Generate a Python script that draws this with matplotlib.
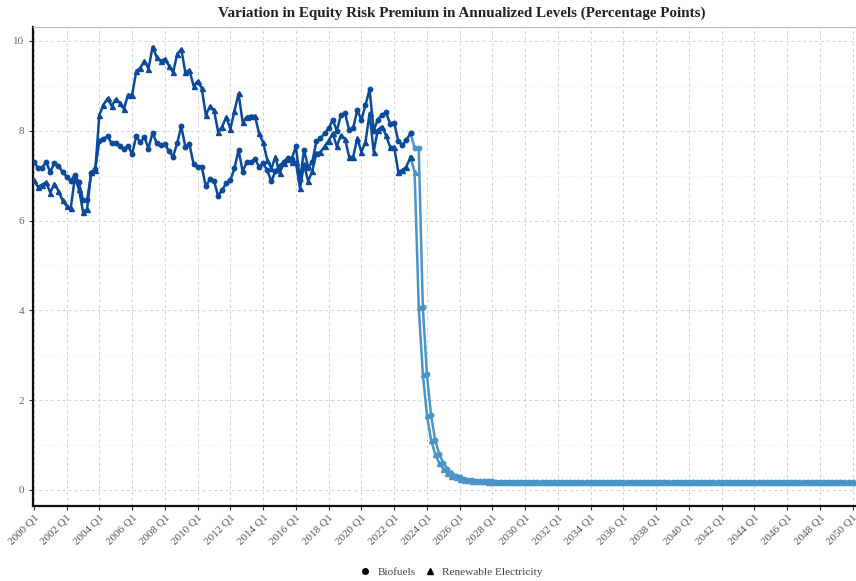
import matplotlib
matplotlib.use("Agg")
import matplotlib.pyplot as plt
from matplotlib.lines import Line2D
from matplotlib.ticker import MultipleLocator

plt.rcParams["font.family"] = ["Liberation Serif", "DejaVu Serif"]

# Quarter labels, 2000 Q1 through 2050 Q1
quarters = [f"{2000 + i // 4} Q{i % 4 + 1}" for i in range(201)]

# Historical quarterly values (2000 Q1 - 2023 Q1)
biofuels_hist = [
    7.30, 7.18, 7.18, 7.30, 7.08, 7.28, 7.22, 7.08, 6.98, 6.88,
    7.02, 6.85, 6.45, 6.45, 7.05, 7.15, 7.78, 7.82, 7.88, 7.72,
    7.72, 7.66, 7.60, 7.66, 7.48, 7.88, 7.74, 7.86, 7.60, 7.96,
    7.72, 7.68, 7.70, 7.55, 7.42, 7.72, 8.10, 7.64, 7.70, 7.26,
    7.20, 7.20, 6.76, 6.92, 6.88, 6.55, 6.68, 6.83, 6.90, 7.16,
    7.57, 7.09, 7.30, 7.30, 7.37, 7.20, 7.27, 7.12, 6.87, 7.10,
    7.22, 7.30, 7.40, 7.38, 7.65, 6.90, 7.57, 7.18, 7.30, 7.76,
    7.83, 7.94, 8.05, 8.24, 8.00, 8.35, 8.39, 8.02, 8.07, 8.46,
    8.24, 8.57, 8.92, 8.00, 8.25, 8.35, 8.41, 8.16, 8.18, 7.77,
    7.68, 7.80, 7.94,
]
renewable_hist = [
    6.90, 6.75, 6.80, 6.85, 6.62, 6.82, 6.66, 6.45, 6.32, 6.27,
    6.95, 6.70, 6.20, 6.25, 7.08, 7.12, 8.35, 8.58, 8.72, 8.55,
    8.70, 8.62, 8.48, 8.80, 8.80, 9.32, 9.40, 9.56, 9.38, 9.87,
    9.64, 9.55, 9.60, 9.45, 9.30, 9.70, 9.82, 9.30, 9.35, 9.00,
    9.10, 8.95, 8.35, 8.54, 8.46, 7.98, 8.09, 8.31, 8.04, 8.44,
    8.83, 8.19, 8.31, 8.33, 8.33, 7.94, 7.74, 7.35, 7.16, 7.42,
    7.05, 7.28, 7.38, 7.30, 7.30, 6.72, 7.25, 6.87, 7.10, 7.50,
    7.52, 7.65, 7.78, 7.94, 7.65, 7.90, 7.82, 7.42, 7.42, 7.83,
    7.53, 7.75, 8.39, 7.53, 8.02, 8.09, 7.90, 7.64, 7.64, 7.09,
    7.12, 7.20, 7.42,
]

# Projected quarterly values (2023 Q1 - 2050 Q1)
biofuels_proj = [
    7.94, 7.62, 7.62, 4.08, 2.58, 1.67, 1.12, 0.80, 0.60, 0.47,
    0.38, 0.32, 0.28, 0.25, 0.23, 0.215, 0.205, 0.198, 0.193, 0.190,
    0.187, 0.186, 0.185, 0.184, 0.183, 0.183, 0.182, 0.182, 0.181, 0.181,
    0.180, 0.180, 0.180, 0.180, 0.180, 0.180, 0.180, 0.180, 0.180, 0.180,
    0.180, 0.180, 0.180, 0.180, 0.180, 0.180, 0.180, 0.180, 0.180, 0.180,
    0.180, 0.180, 0.180, 0.180, 0.180, 0.180, 0.180, 0.180, 0.180, 0.180,
    0.180, 0.180, 0.180, 0.180, 0.180, 0.180, 0.180, 0.180, 0.180, 0.180,
    0.180, 0.180, 0.180, 0.180, 0.180, 0.180, 0.180, 0.180, 0.180, 0.180,
    0.180, 0.180, 0.180, 0.180, 0.180, 0.180, 0.180, 0.180, 0.180, 0.180,
    0.180, 0.180, 0.180, 0.180, 0.180, 0.180, 0.180, 0.180, 0.180, 0.180,
    0.180, 0.180, 0.180, 0.180, 0.180, 0.180, 0.180, 0.180, 0.180,
]
renewable_proj = [
    7.42, 7.08, 4.08, 2.58, 1.67, 1.12, 0.80, 0.60, 0.47, 0.38,
    0.32, 0.28, 0.25, 0.23, 0.215, 0.205, 0.198, 0.193, 0.190, 0.185,
    0.182, 0.180, 0.178, 0.177, 0.176, 0.175, 0.175, 0.174, 0.174, 0.173,
    0.173, 0.172, 0.172, 0.172, 0.172, 0.172, 0.172, 0.172, 0.172, 0.172,
    0.172, 0.172, 0.172, 0.172, 0.172, 0.172, 0.172, 0.172, 0.172, 0.172,
    0.172, 0.172, 0.172, 0.172, 0.172, 0.172, 0.172, 0.172, 0.172, 0.172,
    0.172, 0.172, 0.172, 0.172, 0.172, 0.172, 0.172, 0.172, 0.172, 0.172,
    0.172, 0.172, 0.172, 0.172, 0.172, 0.172, 0.172, 0.172, 0.172, 0.172,
    0.172, 0.172, 0.172, 0.172, 0.172, 0.172, 0.172, 0.172, 0.172, 0.172,
    0.172, 0.172, 0.172, 0.172, 0.172, 0.172, 0.172, 0.172, 0.172, 0.172,
    0.172, 0.172, 0.172, 0.172, 0.172, 0.172, 0.172, 0.172, 0.172,
]

hist_color = "#0b4a9a"
proj_color = "#4a94c8"

x_hist = list(range(len(biofuels_hist)))
start = len(biofuels_hist) - 1
x_proj = list(range(start, start + len(biofuels_proj)))

fig = plt.figure(figsize=(8.56, 5.81), dpi=100)
ax = fig.add_axes([0.0386, 0.129, 0.9604, 0.8245])

# projected segments first, history drawn on top
ax.plot(x_proj, biofuels_proj, color=proj_color, lw=1.8, marker="o", ms=3.2, zorder=3)
ax.plot(x_proj, renewable_proj, color=proj_color, lw=1.8, marker="^", ms=3.6, zorder=3)
ax.plot(x_hist, biofuels_hist, color=hist_color, lw=1.8, marker="o", ms=3.2, zorder=4)
ax.plot(x_hist, renewable_hist, color=hist_color, lw=1.8, marker="^", ms=3.6, zorder=4)

ax.set_xlim(-0.2, 200.6)
ax.set_ylim(-0.36, 10.31)

tick_pos = list(range(0, 201, 8))
ax.set_xticks(tick_pos)
ax.set_xticklabels([quarters[i] for i in tick_pos], rotation=45, ha="right",
                   rotation_mode="anchor", fontsize=8, color="#555555")
ax.yaxis.set_major_locator(MultipleLocator(2))
ax.yaxis.set_minor_locator(MultipleLocator(1))
ax.tick_params(axis="y", which="major", labelsize=8, labelcolor="#666666",
               length=3, width=0.8, color="#333333")
ax.tick_params(axis="y", which="minor", length=0)
ax.tick_params(axis="x", length=3, width=0.8, color="#333333", pad=2)

ax.grid(which="major", axis="both", color="#d0d0d0", ls=(0, (3, 3)), lw=0.7)
ax.grid(which="minor", axis="y", color="#eeeeee", ls=(0, (3, 3)), lw=0.6)
ax.set_axisbelow(True)

for side in ("left", "bottom"):
    ax.spines[side].set_color("#111111")
    ax.spines[side].set_linewidth(1.6)
ax.spines["top"].set_color("#bbbbbb")
ax.spines["top"].set_linewidth(0.8)
ax.spines["right"].set_visible(False)

fig.text(0.54, 0.978, "Variation in Equity Risk Premium in Annualized Levels (Percentage Points)",
         ha="center", va="center", fontsize=10.9, fontweight="bold", color="#222222")

handles = [
    Line2D([], [], ls="none", marker="o", color="black", ms=4, label="Biofuels"),
    Line2D([], [], ls="none", marker="^", color="black", ms=4.5, label="Renewable Electricity"),
]
fig.legend(handles=handles, loc="center", bbox_to_anchor=(0.527, 0.016), ncol=2,
           frameon=False, fontsize=8.1, handlelength=1.0, handletextpad=0.6,
           columnspacing=0.8, labelcolor="#444444")

fig.savefig("out.png", dpi=100)
